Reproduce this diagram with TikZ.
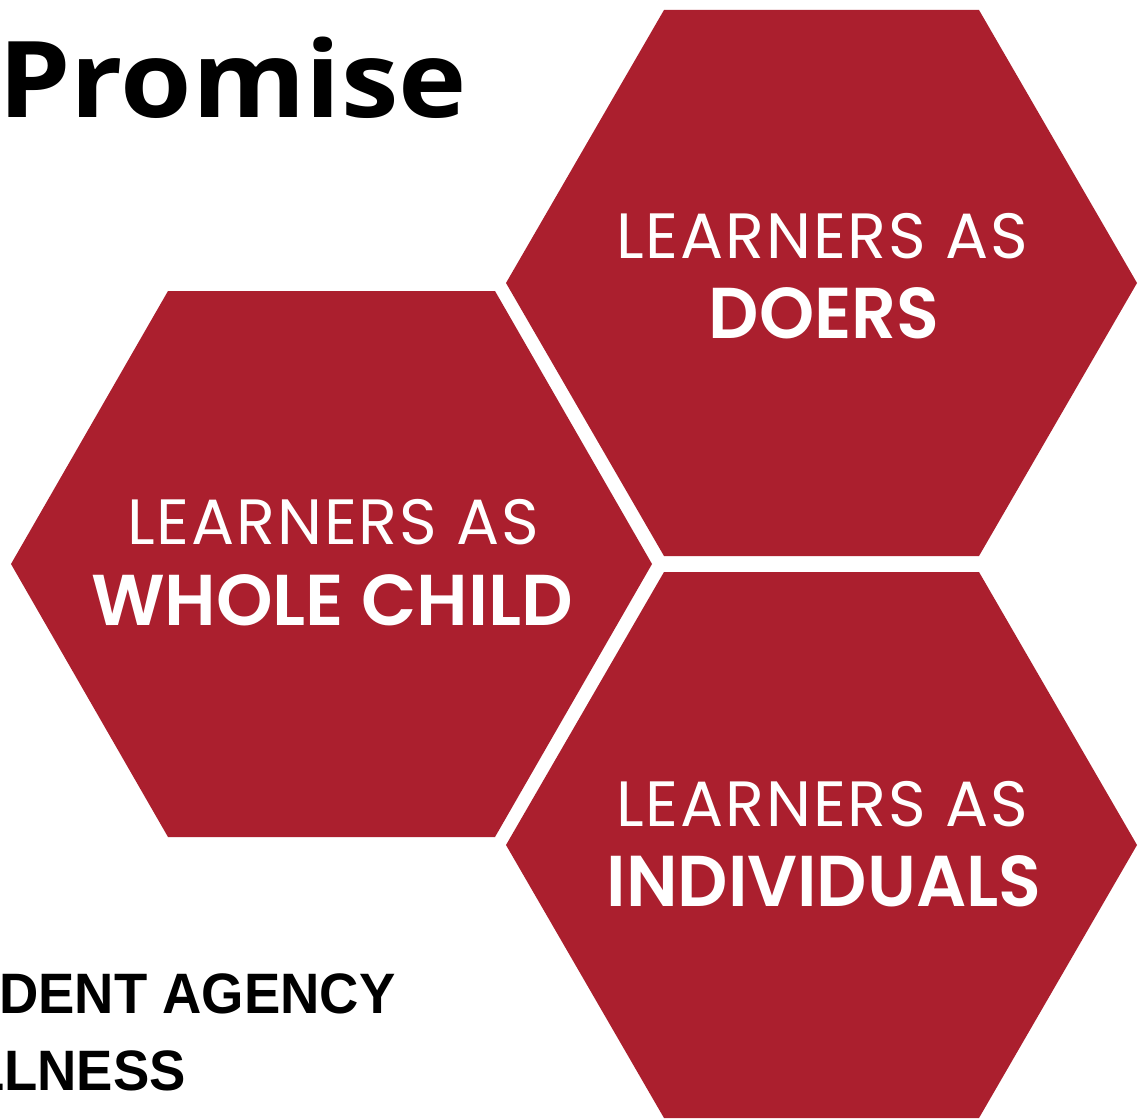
\documentclass[tikz,border=0pt]{standalone}
\usepackage{fontspec}
\setmainfont{Poppins}
\newfontfamily\hexlight[LetterSpace=3]{Poppins}
\newfontfamily\hexbold{Poppins SemiBold}
\newfontfamily\titlefont{Open Sans}
\newfontfamily\bodyfont{Liberation Sans}
\definecolor{hexred}{RGB}{171,31,46}
\tikzset{
  hexfill/.style={fill=hexred, draw=none},
  thin/.style={text=white, font=\hexlight\fontsize{64}{64}\selectfont, inner sep=0pt, anchor=base},
  thick/.style={text=white, font=\hexbold\fontsize{72}{72}\selectfont, inner sep=0pt, anchor=base},
  side/.style={text=black, font=\bodyfont\bfseries\fontsize{57}{57}\selectfont, inner sep=0pt, xscale=0.955},
}
\begin{document}
\begin{tikzpicture}[x=1pt,y=-1pt]
\useasboundingbox (0,0) rectangle (1142,1118);
\fill[white] (0,0) rectangle (1142,1118);
% hexagons
\fill[hexfill] (506,283) -- (664,10) -- (979,10) -- (1137,283) -- (979,556) -- (664,556) -- cycle;
\fill[hexfill] (11,564) -- (168,291) -- (495,291) -- (652,564) -- (495,837) -- (168,837) -- cycle;
\fill[hexfill] (506,845) -- (664,572) -- (979,572) -- (1137,845) -- (979,1118) -- (664,1118) -- cycle;
% texts
\node[thin] (t1) at (822,258) {LEARNERS AS};
\node[thick, xscale=0.975] (b1) at (824,338) {DOERS};
\node[thin] (t2) at (333,544) {LEARNERS AS};
\node[thick] (b2) at (332,625) {WHOLE CHILD};
\node[thin] (t3) at (822,826) {LEARNERS AS};
\node[thick, xscale=0.975] (b3) at (824,906) {INDIVIDUALS};
\node[font=\titlefont\bfseries\fontsize{106}{106}\selectfont, inner sep=0pt, anchor=base west, xscale=1.09] (title) at (-2,118) {Promise};
\node[side, anchor=base west] (s1) at (-1,1013) {DENT AGENCY};
\node[side, anchor=base east] (s2) at (186,1090) {LLNESS};
\end{tikzpicture}
\end{document}
